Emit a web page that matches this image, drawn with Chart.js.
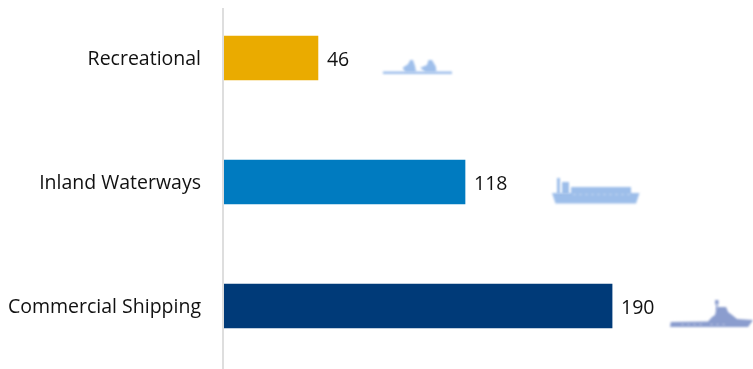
<!DOCTYPE html>
<html>
<head>
<meta charset="utf-8">
<style>
  html, body { margin: 0; padding: 0; background: #fff; overflow: hidden; }
  #wrap { position: absolute; left: 0; top: 0; width: 753px; height: 369px; overflow: hidden; }
  /* The first band starts just above the visible page. */
  #c { position: absolute; left: 0; top: -4px; }
</style>
<script src="https://cdn.jsdelivr.net/npm/chart.js@4/dist/chart.umd.min.js"></script>
</head>
<body>
<div id="wrap"><canvas id="c" width="753" height="373"></canvas></div>
<script>
const categories = ['Recreational', 'Inland Waterways', 'Commercial Shipping'];
const vesselCounts = [46, 118, 190];
const barColors = ['#EAAB00', '#007BC0', '#003A78'];
const FONT = '"Open Sans", "Noto Sans", sans-serif';

// Vessel silhouettes, in local units measured from the end of each bar.
const vesselShapes = [
  { color: '#9FBFEB', dx: 65, dy: 0, parts: [
    [[0, 13.6], [69, 13.6], [69, 16], [0, 16]],
    [[19.6, 9.7], [25, 6.3], [27.3, 2], [30, 2], [32.3, 8.7], [33, 14], [22.3, 14]],
    [[37.3, 9.7], [44, 7], [45.6, 2], [49, 2], [53, 8.7], [53.3, 14], [42.3, 14]]
  ], details: [] },
  { color: '#9DBEEA', dx: 87, dy: -4, parts: [
    [[0, 15], [19, 15], [19, 9], [79, 9], [79, 15], [87.5, 15], [84, 25.5], [3.5, 25.5]],
    [[5, 0], [8, 0], [8, 16], [5, 16]],
    [[10, 4], [17, 4], [17, 16], [10, 16]]
  ], details: [[[21, 16.5], [78, 16.5]]] },
  { color: '#8B9DCE', dx: 58, dy: -16, parts: [
    [[0.7, 32], [38, 31.5], [42, 27], [45, 25], [46, 20], [47, 17], [56, 17], [58, 22], [62, 25], [67, 29], [83, 30], [78, 37], [0, 37]],
    [[45, 10], [48.5, 10], [48.5, 14.5], [45, 14.5]],
    [[46, 14], [47.5, 14], [47.5, 20], [46, 20]]
  ], details: [[[11, 34.5], [32, 34.5]], [[40, 34.5], [57, 34.5]]] }
];

const barExtras = {
  id: 'barExtras',
  beforeDatasetsDraw(chart) {
    // Vertical baseline stops short of the top edge of the plot.
    const { ctx, scales: { x } } = chart;
    const px = x.getPixelForValue(0);
    ctx.save();
    ctx.strokeStyle = '#DEDEDE';
    ctx.lineWidth = 2;
    ctx.beginPath();
    ctx.moveTo(px - 1, 12);
    ctx.lineTo(px - 1, chart.height);
    ctx.stroke();
    ctx.restore();
  },
  afterDatasetsDraw(chart) {
    const { ctx } = chart;
    const bars = chart.getDatasetMeta(0).data;
    bars.forEach((bar, i) => {
      // Value label beside the bar end.
      ctx.save();
      ctx.fillStyle = '#111';
      ctx.font = '19.5px ' + FONT;
      ctx.textAlign = 'left';
      ctx.textBaseline = 'middle';
      ctx.fillText(String(vesselCounts[i]), bar.x + 9, bar.y + 2);
      ctx.restore();

      // Soft vessel pictogram after the label.
      const shape = vesselShapes[i];
      const ox = bar.x + shape.dx, oy = bar.y + shape.dy;
      ctx.save();
      ctx.filter = 'blur(1px)';
      ctx.fillStyle = shape.color;
      shape.parts.forEach(pts => {
        ctx.beginPath();
        pts.forEach(([px, py], k) => k ? ctx.lineTo(ox + px, oy + py) : ctx.moveTo(ox + px, oy + py));
        ctx.closePath();
        ctx.fill();
      });
      // Faint rows of portholes along the hull.
      ctx.strokeStyle = 'rgba(255,255,255,0.3)';
      ctx.lineWidth = 1.5;
      ctx.setLineDash([3, 3]);
      shape.details.forEach(([a, b]) => {
        ctx.beginPath();
        ctx.moveTo(ox + a[0], oy + a[1]);
        ctx.lineTo(ox + b[0], oy + b[1]);
        ctx.stroke();
      });
      ctx.restore();
    });
  }
};

new Chart(document.getElementById('c'), {
  type: 'bar',
  data: {
    labels: categories,
    datasets: [{ data: vesselCounts, backgroundColor: barColors, barThickness: 44, borderWidth: 0 }]
  },
  options: {
    indexAxis: 'y',
    responsive: false,
    animation: false,
    layout: { padding: { top: 0, bottom: 1, left: 0, right: 0 } },
    plugins: { legend: { display: false }, tooltip: { enabled: false } },
    scales: {
      x: { display: false, min: 0, max: 259 },
      y: {
        // Fixed gutter for the labels, with no extra room above or below the bands.
        afterFit(scale) { scale.width = 224; scale.paddingTop = 0; scale.paddingBottom = 0; },
        grid: { display: false, drawTicks: false },
        border: { display: false },
        ticks: { color: '#111', padding: 23, labelOffset: 1, font: { family: FONT, size: 19.5 } }
      }
    }
  },
  plugins: [barExtras]
});
</script>
</body>
</html>
